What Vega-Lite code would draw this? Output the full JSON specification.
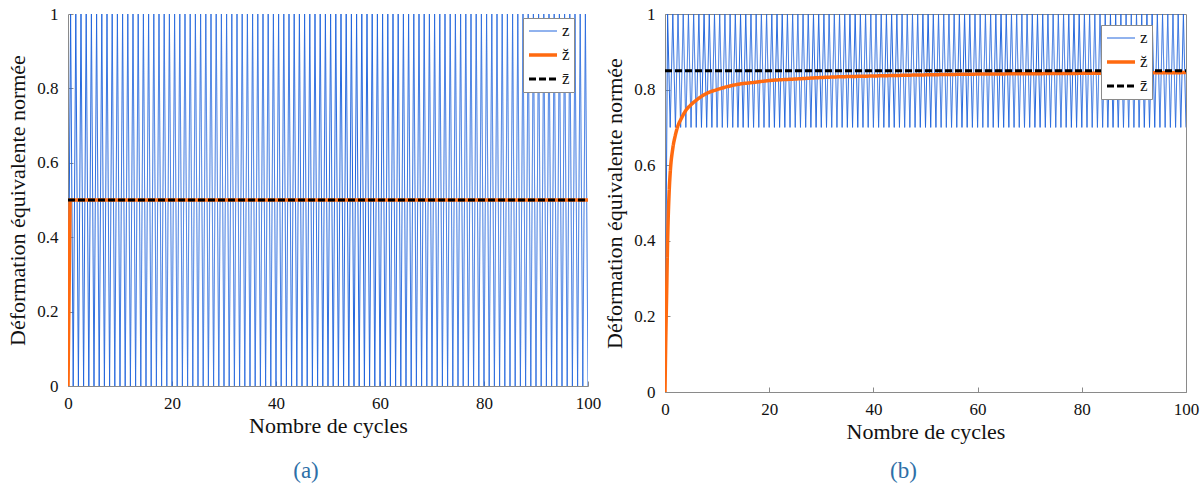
{
  "$schema": "https://vega.github.io/schema/vega-lite/v6.json",
  "padding": {"left": 6, "top": 4, "right": 5, "bottom": 3},
  "background": "white",
  "bounds": "flush",
  "spacing": 77,
  "config": {
    "font": "Liberation Serif, Times New Roman, serif",
    "view": {"stroke": null},
    "axis": {"grid": false, "domainColor": "#8a8a8a", "tickColor": "#8a8a8a", "tickSize": -5, "labelFontSize": 17, "labelColor": "#111", "titleFontSize": 22, "titleFontWeight": "normal", "titleColor": "#111", "labelFont": "Liberation Serif, Times New Roman, serif", "titleFont": "Liberation Serif, Times New Roman, serif", "labelFlush": false},
    "axisX": {"labelPadding": 14, "titlePadding": 4},
    "axisY": {"labelPadding": 15, "titlePadding": 7},
    "legend": {"orient": "none", "title": null, "fillColor": "white", "strokeColor": "#8a8a8a", "padding": 4, "symbolType": "stroke", "symbolSize": 784, "clipHeight": 18, "labelFontSize": 17, "labelFont": "Liberation Serif, Times New Roman, serif", "labelColor": "#111", "rowPadding": 6, "labelOffset": 3},
    "title": {"font": "Liberation Serif, Times New Roman, serif", "fontSize": 23, "fontWeight": "normal", "color": "#2e6fa7"}
  },
  "resolve": {"scale": {"color": "independent", "strokeDash": "independent", "strokeWidth": "independent"}, "legend": {"color": "independent", "strokeDash": "independent", "strokeWidth": "independent"}},
  "datasets": {
    "zz": [
      {"c":0,"a":0,"b":0,"s":"z"},{"c":0.5,"a":1,"b":1,"s":"z"},{"c":1,"a":0,"b":0.7,"s":"z"},{"c":1.5,"a":1,"b":1,"s":"z"},{"c":2,"a":0,"b":0.7,"s":"z"},{"c":2.5,"a":1,"b":1,"s":"z"},{"c":3,"a":0,"b":0.7,"s":"z"},{"c":3.5,"a":1,"b":1,"s":"z"},{"c":4,"a":0,"b":0.7,"s":"z"},{"c":4.5,"a":1,"b":1,"s":"z"},
      {"c":5,"a":0,"b":0.7,"s":"z"},{"c":5.5,"a":1,"b":1,"s":"z"},{"c":6,"a":0,"b":0.7,"s":"z"},{"c":6.5,"a":1,"b":1,"s":"z"},{"c":7,"a":0,"b":0.7,"s":"z"},{"c":7.5,"a":1,"b":1,"s":"z"},{"c":8,"a":0,"b":0.7,"s":"z"},{"c":8.5,"a":1,"b":1,"s":"z"},{"c":9,"a":0,"b":0.7,"s":"z"},{"c":9.5,"a":1,"b":1,"s":"z"},
      {"c":10,"a":0,"b":0.7,"s":"z"},{"c":10.5,"a":1,"b":1,"s":"z"},{"c":11,"a":0,"b":0.7,"s":"z"},{"c":11.5,"a":1,"b":1,"s":"z"},{"c":12,"a":0,"b":0.7,"s":"z"},{"c":12.5,"a":1,"b":1,"s":"z"},{"c":13,"a":0,"b":0.7,"s":"z"},{"c":13.5,"a":1,"b":1,"s":"z"},{"c":14,"a":0,"b":0.7,"s":"z"},{"c":14.5,"a":1,"b":1,"s":"z"},
      {"c":15,"a":0,"b":0.7,"s":"z"},{"c":15.5,"a":1,"b":1,"s":"z"},{"c":16,"a":0,"b":0.7,"s":"z"},{"c":16.5,"a":1,"b":1,"s":"z"},{"c":17,"a":0,"b":0.7,"s":"z"},{"c":17.5,"a":1,"b":1,"s":"z"},{"c":18,"a":0,"b":0.7,"s":"z"},{"c":18.5,"a":1,"b":1,"s":"z"},{"c":19,"a":0,"b":0.7,"s":"z"},{"c":19.5,"a":1,"b":1,"s":"z"},
      {"c":20,"a":0,"b":0.7,"s":"z"},{"c":20.5,"a":1,"b":1,"s":"z"},{"c":21,"a":0,"b":0.7,"s":"z"},{"c":21.5,"a":1,"b":1,"s":"z"},{"c":22,"a":0,"b":0.7,"s":"z"},{"c":22.5,"a":1,"b":1,"s":"z"},{"c":23,"a":0,"b":0.7,"s":"z"},{"c":23.5,"a":1,"b":1,"s":"z"},{"c":24,"a":0,"b":0.7,"s":"z"},{"c":24.5,"a":1,"b":1,"s":"z"},
      {"c":25,"a":0,"b":0.7,"s":"z"},{"c":25.5,"a":1,"b":1,"s":"z"},{"c":26,"a":0,"b":0.7,"s":"z"},{"c":26.5,"a":1,"b":1,"s":"z"},{"c":27,"a":0,"b":0.7,"s":"z"},{"c":27.5,"a":1,"b":1,"s":"z"},{"c":28,"a":0,"b":0.7,"s":"z"},{"c":28.5,"a":1,"b":1,"s":"z"},{"c":29,"a":0,"b":0.7,"s":"z"},{"c":29.5,"a":1,"b":1,"s":"z"},
      {"c":30,"a":0,"b":0.7,"s":"z"},{"c":30.5,"a":1,"b":1,"s":"z"},{"c":31,"a":0,"b":0.7,"s":"z"},{"c":31.5,"a":1,"b":1,"s":"z"},{"c":32,"a":0,"b":0.7,"s":"z"},{"c":32.5,"a":1,"b":1,"s":"z"},{"c":33,"a":0,"b":0.7,"s":"z"},{"c":33.5,"a":1,"b":1,"s":"z"},{"c":34,"a":0,"b":0.7,"s":"z"},{"c":34.5,"a":1,"b":1,"s":"z"},
      {"c":35,"a":0,"b":0.7,"s":"z"},{"c":35.5,"a":1,"b":1,"s":"z"},{"c":36,"a":0,"b":0.7,"s":"z"},{"c":36.5,"a":1,"b":1,"s":"z"},{"c":37,"a":0,"b":0.7,"s":"z"},{"c":37.5,"a":1,"b":1,"s":"z"},{"c":38,"a":0,"b":0.7,"s":"z"},{"c":38.5,"a":1,"b":1,"s":"z"},{"c":39,"a":0,"b":0.7,"s":"z"},{"c":39.5,"a":1,"b":1,"s":"z"},
      {"c":40,"a":0,"b":0.7,"s":"z"},{"c":40.5,"a":1,"b":1,"s":"z"},{"c":41,"a":0,"b":0.7,"s":"z"},{"c":41.5,"a":1,"b":1,"s":"z"},{"c":42,"a":0,"b":0.7,"s":"z"},{"c":42.5,"a":1,"b":1,"s":"z"},{"c":43,"a":0,"b":0.7,"s":"z"},{"c":43.5,"a":1,"b":1,"s":"z"},{"c":44,"a":0,"b":0.7,"s":"z"},{"c":44.5,"a":1,"b":1,"s":"z"},
      {"c":45,"a":0,"b":0.7,"s":"z"},{"c":45.5,"a":1,"b":1,"s":"z"},{"c":46,"a":0,"b":0.7,"s":"z"},{"c":46.5,"a":1,"b":1,"s":"z"},{"c":47,"a":0,"b":0.7,"s":"z"},{"c":47.5,"a":1,"b":1,"s":"z"},{"c":48,"a":0,"b":0.7,"s":"z"},{"c":48.5,"a":1,"b":1,"s":"z"},{"c":49,"a":0,"b":0.7,"s":"z"},{"c":49.5,"a":1,"b":1,"s":"z"},
      {"c":50,"a":0,"b":0.7,"s":"z"},{"c":50.5,"a":1,"b":1,"s":"z"},{"c":51,"a":0,"b":0.7,"s":"z"},{"c":51.5,"a":1,"b":1,"s":"z"},{"c":52,"a":0,"b":0.7,"s":"z"},{"c":52.5,"a":1,"b":1,"s":"z"},{"c":53,"a":0,"b":0.7,"s":"z"},{"c":53.5,"a":1,"b":1,"s":"z"},{"c":54,"a":0,"b":0.7,"s":"z"},{"c":54.5,"a":1,"b":1,"s":"z"},
      {"c":55,"a":0,"b":0.7,"s":"z"},{"c":55.5,"a":1,"b":1,"s":"z"},{"c":56,"a":0,"b":0.7,"s":"z"},{"c":56.5,"a":1,"b":1,"s":"z"},{"c":57,"a":0,"b":0.7,"s":"z"},{"c":57.5,"a":1,"b":1,"s":"z"},{"c":58,"a":0,"b":0.7,"s":"z"},{"c":58.5,"a":1,"b":1,"s":"z"},{"c":59,"a":0,"b":0.7,"s":"z"},{"c":59.5,"a":1,"b":1,"s":"z"},
      {"c":60,"a":0,"b":0.7,"s":"z"},{"c":60.5,"a":1,"b":1,"s":"z"},{"c":61,"a":0,"b":0.7,"s":"z"},{"c":61.5,"a":1,"b":1,"s":"z"},{"c":62,"a":0,"b":0.7,"s":"z"},{"c":62.5,"a":1,"b":1,"s":"z"},{"c":63,"a":0,"b":0.7,"s":"z"},{"c":63.5,"a":1,"b":1,"s":"z"},{"c":64,"a":0,"b":0.7,"s":"z"},{"c":64.5,"a":1,"b":1,"s":"z"},
      {"c":65,"a":0,"b":0.7,"s":"z"},{"c":65.5,"a":1,"b":1,"s":"z"},{"c":66,"a":0,"b":0.7,"s":"z"},{"c":66.5,"a":1,"b":1,"s":"z"},{"c":67,"a":0,"b":0.7,"s":"z"},{"c":67.5,"a":1,"b":1,"s":"z"},{"c":68,"a":0,"b":0.7,"s":"z"},{"c":68.5,"a":1,"b":1,"s":"z"},{"c":69,"a":0,"b":0.7,"s":"z"},{"c":69.5,"a":1,"b":1,"s":"z"},
      {"c":70,"a":0,"b":0.7,"s":"z"},{"c":70.5,"a":1,"b":1,"s":"z"},{"c":71,"a":0,"b":0.7,"s":"z"},{"c":71.5,"a":1,"b":1,"s":"z"},{"c":72,"a":0,"b":0.7,"s":"z"},{"c":72.5,"a":1,"b":1,"s":"z"},{"c":73,"a":0,"b":0.7,"s":"z"},{"c":73.5,"a":1,"b":1,"s":"z"},{"c":74,"a":0,"b":0.7,"s":"z"},{"c":74.5,"a":1,"b":1,"s":"z"},
      {"c":75,"a":0,"b":0.7,"s":"z"},{"c":75.5,"a":1,"b":1,"s":"z"},{"c":76,"a":0,"b":0.7,"s":"z"},{"c":76.5,"a":1,"b":1,"s":"z"},{"c":77,"a":0,"b":0.7,"s":"z"},{"c":77.5,"a":1,"b":1,"s":"z"},{"c":78,"a":0,"b":0.7,"s":"z"},{"c":78.5,"a":1,"b":1,"s":"z"},{"c":79,"a":0,"b":0.7,"s":"z"},{"c":79.5,"a":1,"b":1,"s":"z"},
      {"c":80,"a":0,"b":0.7,"s":"z"},{"c":80.5,"a":1,"b":1,"s":"z"},{"c":81,"a":0,"b":0.7,"s":"z"},{"c":81.5,"a":1,"b":1,"s":"z"},{"c":82,"a":0,"b":0.7,"s":"z"},{"c":82.5,"a":1,"b":1,"s":"z"},{"c":83,"a":0,"b":0.7,"s":"z"},{"c":83.5,"a":1,"b":1,"s":"z"},{"c":84,"a":0,"b":0.7,"s":"z"},{"c":84.5,"a":1,"b":1,"s":"z"},
      {"c":85,"a":0,"b":0.7,"s":"z"},{"c":85.5,"a":1,"b":1,"s":"z"},{"c":86,"a":0,"b":0.7,"s":"z"},{"c":86.5,"a":1,"b":1,"s":"z"},{"c":87,"a":0,"b":0.7,"s":"z"},{"c":87.5,"a":1,"b":1,"s":"z"},{"c":88,"a":0,"b":0.7,"s":"z"},{"c":88.5,"a":1,"b":1,"s":"z"},{"c":89,"a":0,"b":0.7,"s":"z"},{"c":89.5,"a":1,"b":1,"s":"z"},
      {"c":90,"a":0,"b":0.7,"s":"z"},{"c":90.5,"a":1,"b":1,"s":"z"},{"c":91,"a":0,"b":0.7,"s":"z"},{"c":91.5,"a":1,"b":1,"s":"z"},{"c":92,"a":0,"b":0.7,"s":"z"},{"c":92.5,"a":1,"b":1,"s":"z"},{"c":93,"a":0,"b":0.7,"s":"z"},{"c":93.5,"a":1,"b":1,"s":"z"},{"c":94,"a":0,"b":0.7,"s":"z"},{"c":94.5,"a":1,"b":1,"s":"z"},
      {"c":95,"a":0,"b":0.7,"s":"z"},{"c":95.5,"a":1,"b":1,"s":"z"},{"c":96,"a":0,"b":0.7,"s":"z"},{"c":96.5,"a":1,"b":1,"s":"z"},{"c":97,"a":0,"b":0.7,"s":"z"},{"c":97.5,"a":1,"b":1,"s":"z"},{"c":98,"a":0,"b":0.7,"s":"z"},{"c":98.5,"a":1,"b":1,"s":"z"},{"c":99,"a":0,"b":0.7,"s":"z"},{"c":99.5,"a":1,"b":1,"s":"z"},
      {"c":100,"a":0,"b":0.7,"s":"z"}
    ],
    "avgA": [{"c":0,"v":0,"s":"z̆"},{"c":0.4,"v":0.5,"s":"z̆"},{"c":100,"v":0.5,"s":"z̆"}],
    "meanA": [{"c":0,"v":0.5,"s":"z̄"},{"c":100,"v":0.5,"s":"z̄"}],
    "avgB": [
      {"c":0,"v":0,"s":"z̆"},{"c":0.1,"v":0.1,"s":"z̆"},{"c":0.2,"v":0.18,"s":"z̆"},{"c":0.3,"v":0.25,"s":"z̆"},{"c":0.5,"v":0.4,"s":"z̆"},{"c":0.8,"v":0.53,"s":"z̆"},{"c":1,"v":0.58,"s":"z̆"},{"c":1.5,"v":0.645,"s":"z̆"},{"c":2,"v":0.68,"s":"z̆"},{"c":2.5,"v":0.705,"s":"z̆"},{"c":3,"v":0.72,"s":"z̆"},{"c":4,"v":0.745,"s":"z̆"},{"c":5,"v":0.76,"s":"z̆"},{"c":6,"v":0.772,"s":"z̆"},{"c":7,"v":0.782,"s":"z̆"},{"c":8,"v":0.79,"s":"z̆"},{"c":10,"v":0.8,"s":"z̆"},{"c":12,"v":0.808,"s":"z̆"},{"c":14,"v":0.814,"s":"z̆"},{"c":17,"v":0.819,"s":"z̆"},{"c":20,"v":0.824,"s":"z̆"},{"c":25,"v":0.828,"s":"z̆"},{"c":30,"v":0.832,"s":"z̆"},{"c":40,"v":0.836,"s":"z̆"},{"c":50,"v":0.839,"s":"z̆"},{"c":60,"v":0.841,"s":"z̆"},{"c":70,"v":0.842,"s":"z̆"},{"c":80,"v":0.843,"s":"z̆"},{"c":90,"v":0.844,"s":"z̆"},{"c":100,"v":0.845,"s":"z̆"}
    ],
    "meanB": [{"c":0,"v":0.85,"s":"z̄"},{"c":100,"v":0.85,"s":"z̄"}]
  },
  "hconcat": [
    {
      "width": 520,
      "height": 372,
      "title": {"text": "(a)", "orient": "bottom", "dx": -22, "offset": 24},
      "encoding": {
        "color": {"field": "s", "type": "nominal", "scale": {"domain": ["z", "z̆", "z̄"], "range": ["#2266dd", "#ff6a10", "#000000"]}, "legend": {"legendX": 455, "legendY": 4}},
        "strokeDash": {"field": "s", "type": "nominal", "scale": {"domain": ["z", "z̆", "z̄"], "range": [[1, 0], [1, 0], [7, 3]]}, "legend": {"legendX": 455, "legendY": 4}},
        "strokeWidth": {"field": "s", "type": "nominal", "scale": {"type": "ordinal", "domain": ["z", "z̆", "z̄"], "range": [1, 3.5, 3]}, "legend": {"legendX": 455, "legendY": 4}}
      },
      "layer": [
        {
          "data": {"name": "zz"},
          "mark": {"type": "line", "clip": true},
          "encoding": {
            "x": {"field": "c", "type": "quantitative", "scale": {"domain": [0, 100], "nice": false}, "axis": {"values": [0, 20, 40, 60, 80, 100], "title": "Nombre de cycles"}},
            "y": {"field": "a", "type": "quantitative", "scale": {"domain": [0, 1], "nice": false}, "axis": {"values": [0, 0.2, 0.4, 0.6, 0.8, 1], "format": "~g", "title": "Déformation équivalente normée"}}
          }
        },
        {
          "data": {"name": "avgA"},
          "mark": {"type": "line", "clip": true},
          "encoding": {
            "x": {"field": "c", "type": "quantitative"},
            "y": {"field": "v", "type": "quantitative"}
          }
        },
        {
          "data": {"name": "meanA"},
          "mark": {"type": "line", "clip": true},
          "encoding": {
            "x": {"field": "c", "type": "quantitative"},
            "y": {"field": "v", "type": "quantitative"}
          }
        }
      ]
    },
    {
      "width": 521,
      "height": 378,
      "view": {"stroke": "#8a8a8a"},
      "title": {"text": "(b)", "orient": "bottom", "dx": -22, "offset": 18},
      "encoding": {
        "color": {"field": "s", "type": "nominal", "scale": {"domain": ["z", "z̆", "z̄"], "range": ["#2266dd", "#ff6a10", "#000000"]}, "legend": {"legendX": 436, "legendY": 11}},
        "strokeDash": {"field": "s", "type": "nominal", "scale": {"domain": ["z", "z̆", "z̄"], "range": [[1, 0], [1, 0], [7, 3]]}, "legend": {"legendX": 436, "legendY": 11}},
        "strokeWidth": {"field": "s", "type": "nominal", "scale": {"type": "ordinal", "domain": ["z", "z̆", "z̄"], "range": [1, 3.5, 3]}, "legend": {"legendX": 436, "legendY": 11}}
      },
      "layer": [
        {
          "data": {"name": "zz"},
          "mark": {"type": "line", "clip": true},
          "encoding": {
            "x": {"field": "c", "type": "quantitative", "scale": {"domain": [0, 100], "nice": false}, "axis": {"values": [0, 20, 40, 60, 80, 100], "title": "Nombre de cycles"}},
            "y": {"field": "b", "type": "quantitative", "scale": {"domain": [0, 1], "nice": false}, "axis": {"values": [0, 0.2, 0.4, 0.6, 0.8, 1], "format": "~g", "title": "Déformation équivalente normée"}}
          }
        },
        {
          "data": {"name": "avgB"},
          "mark": {"type": "line", "clip": true, "interpolate": "monotone"},
          "encoding": {
            "x": {"field": "c", "type": "quantitative"},
            "y": {"field": "v", "type": "quantitative"}
          }
        },
        {
          "data": {"name": "meanB"},
          "mark": {"type": "line", "clip": true},
          "encoding": {
            "x": {"field": "c", "type": "quantitative"},
            "y": {"field": "v", "type": "quantitative"}
          }
        }
      ]
    }
  ]
}
